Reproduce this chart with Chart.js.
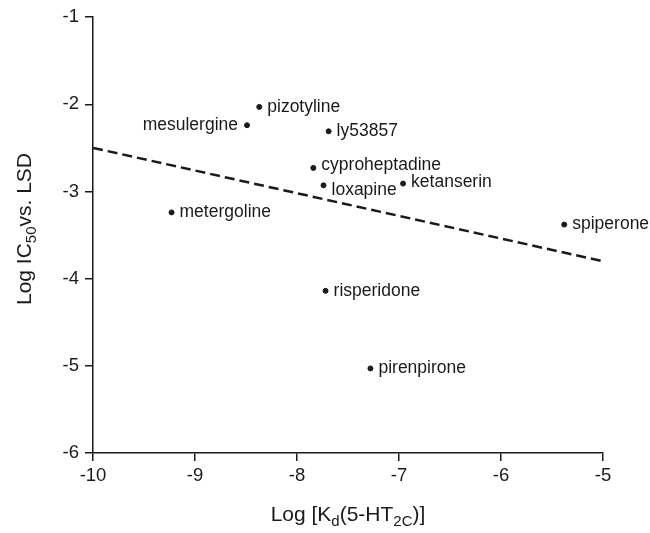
<!DOCTYPE html>
<html>
<head>
<meta charset="utf-8">
<script src="https://cdn.jsdelivr.net/npm/chart.js@4"></script>
<style>
  html, body { margin: 0; background: #fff; }
</style>
</head>
<body>
<canvas id="chart" width="650" height="533"></canvas>
<script>
// compounds and their values
const drugs = ['pizotyline', 'mesulergine', 'ly53857', 'cyproheptadine', 'loxapine',
  'ketanserin', 'metergoline', 'spiperone', 'risperidone', 'pirenpirone'];
const logKd = [-8.37, -8.49, -7.69, -7.84, -7.74, -6.96, -9.23, -5.38, -7.72, -7.28];
const logIC50 = [-2.03, -2.24, -2.31, -2.73, -2.93, -2.91, -3.24, -3.38, -4.14, -5.03];

// regression line end points
const fitX = [-10, -5];
const fitY = [-2.5, -3.8];

const xTicks = [-10, -9, -8, -7, -6, -5];
const yTicks = [-1, -2, -3, -4, -5, -6];

const FONT = '"Liberation Sans", Arial, sans-serif';
const INK = '#1a1a1a';

// label placement tweaks (left side / vertical nudge)
const labelLeft = { mesulergine: true };
const labelNudge = { cyproheptadine: -3, loxapine: 5, ketanserin: -1 };

const pointLabels = {
  id: 'pointLabels',
  afterDatasetsDraw(chart) {
    const ctx = chart.ctx;
    const meta = chart.getDatasetMeta(0);
    ctx.save();
    ctx.font = '17.5px ' + FONT;
    ctx.fillStyle = INK;
    ctx.textBaseline = 'middle';
    meta.data.forEach((pt, i) => {
      const name = drugs[i];
      const dy = labelNudge[name] || 0;
      if (labelLeft[name]) {
        ctx.textAlign = 'right';
        ctx.fillText(name, pt.x - 9, pt.y + dy);
      } else {
        ctx.textAlign = 'left';
        ctx.fillText(name, pt.x + 8, pt.y + dy);
      }
    });
    ctx.restore();
  }
};

function drawRich(ctx, parts, cx, cy, size) {
  const sub = Math.round(size * 0.72);
  let w = 0;
  parts.forEach(p => {
    ctx.font = (p.sub ? sub : size) + 'px ' + FONT;
    p.w = ctx.measureText(p.t).width;
    w += p.w;
  });
  let x = cx - w / 2;
  ctx.textAlign = 'left';
  ctx.textBaseline = 'middle';
  parts.forEach(p => {
    ctx.font = (p.sub ? sub : size) + 'px ' + FONT;
    ctx.fillText(p.t, x, cy + (p.sub ? size * 0.32 : 0));
    x += p.w;
  });
}

const axisTitles = {
  id: 'axisTitles',
  afterDraw(chart) {
    const ctx = chart.ctx;
    const a = chart.chartArea;
    ctx.save();
    ctx.fillStyle = INK;
    drawRich(ctx, [
      { t: 'Log [K' }, { t: 'd', sub: true }, { t: '(5-HT' }, { t: '2C', sub: true }, { t: ')]' }
    ], (a.left + a.right) / 2, 515, 21);
    ctx.translate(25, 229);
    ctx.rotate(-Math.PI / 2);
    drawRich(ctx, [
      { t: 'Log IC' }, { t: '50', sub: true }, { t: 'vs. LSD' }
    ], 0, 0, 21);
    ctx.restore();
  }
};

const axisStyle = {
  grid: { display: true, drawOnChartArea: false, drawTicks: true, tickLength: 8, color: INK, lineWidth: 1.5 },
  border: { display: true, color: INK, width: 1.5 }
};

new Chart(document.getElementById('chart').getContext('2d'), {
  type: 'scatter',
  data: {
    datasets: [{
      label: 'compounds',
      data: logKd.map((x, i) => ({ x: x, y: logIC50[i] })),
      backgroundColor: INK,
      borderColor: INK,
      pointRadius: 2.5,
      pointHoverRadius: 2.5
    }, {
      type: 'line',
      label: 'fit',
      data: fitX.map((x, i) => ({ x: x, y: fitY[i] })),
      borderColor: INK,
      borderWidth: 2.5,
      borderDash: [10, 5],
      pointRadius: 0,
      fill: false
    }]
  },
  options: {
    responsive: false,
    animation: false,
    layout: { padding: { left: 33, top: 16, right: 47, bottom: 0 } },
    plugins: {
      legend: { display: false },
      tooltip: { enabled: false }
    },
    scales: {
      x: {
        type: 'linear',
        min: -10,
        max: -5,
        afterBuildTicks: s => { s.ticks = xTicks.map(v => ({ value: v })); },
        afterFit: s => { s.height = 80; },
        ticks: { font: { family: FONT, size: 18.5 }, color: INK, padding: 4 },
        ...axisStyle
      },
      y: {
        type: 'linear',
        min: -6,
        max: -1,
        afterBuildTicks: s => { s.ticks = yTicks.map(v => ({ value: v })); },
        afterFit: s => { s.width = 60; },
        ticks: { font: { family: FONT, size: 18.5 }, color: INK, padding: 6 },
        ...axisStyle
      }
    }
  },
  plugins: [pointLabels, axisTitles]
});
</script>
</body>
</html>
